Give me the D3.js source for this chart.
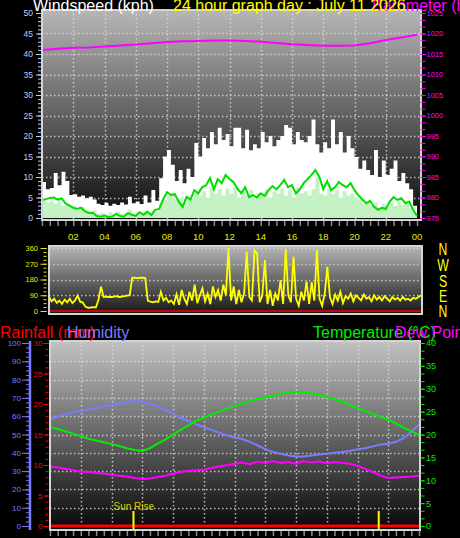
<!DOCTYPE html>
<html>
<head>
<meta charset="utf-8">
<script src="https://cdn.jsdelivr.net/npm/d3@7"></script>
<style>
  body { margin: 0; background: #000; }
  svg { display: block; }
  text { font-family: "Liberation Sans", Arial, sans-serif; }
</style>
</head>
<body>
<div id="chart"></div>
<script>
// ---- data ----
const hourLabels = ["02","04","06","08","10","12","14","16","18","20","22","00"];
const hourValues = [2,4,6,8,10,12,14,16,18,20,22,24];

// windspeed, every 15 minutes, kph
const gustKph = [8.8,7,7.3,11,8,11.3,9,5.6,5.8,5.2,5.5,4.8,5.2,4.5,3.5,3.2,3.7,3.0,3.5,3.2,
  3.8,3.3,5.2,3.6,4.0,3.4,5.5,3.8,6.8,4.2,9.7,15,16.6,13,9,11.7,8.5,12,10,18.3,
  15,19.5,17,21,18,22,19,20.5,17.5,22,22,17,21.5,16.5,18,17,21,18.5,20,17.5,
  19,20,22.7,22,18,21,19,18.5,20,24,18,16,18.5,17,24,18,21,16,20,17,
  14.9,12,14,11.7,10.5,16.6,10,14,10.5,12,14,9,11,8.5,7,3,2];
const windKph = [4.5,3.8,4.2,3.5,4.8,3.0,3.5,2.5,2.8,1.8,2.6,2.0,1.5,1.8,1.0,1.2,0.8,1.4,0.9,1.6,
  1.0,1.3,2.0,1.0,1.5,0.8,1.8,1.2,2.0,1.5,3.5,4.4,5.5,6.0,4.5,5.0,3.5,5.5,4.8,6.0,
  5.5,6.5,5.0,7.5,6.0,7.0,5.5,7.2,6.0,7.5,5.0,6.5,5.5,6.8,4.8,6.0,5.5,7.0,5.0,6.5,
  6.0,7.2,5.5,6.8,5.0,7.5,6.0,6.5,5.5,7.0,10,6.0,5.5,7.0,6.0,6.8,5.0,6.5,5.5,6.0,
  5.0,4.5,3.5,4.0,3.0,3.8,2.5,3.5,2.8,4.0,3.0,3.8,3.2,3.5,2.5,1.5,1.0];
const avgKph = [4.4,4.6,4.9,5.0,4.5,4.8,3.6,3.0,2.5,2.2,2.5,1.6,1.2,1.3,0.5,0.3,0.6,0.2,0.4,1.0,
  0.5,0.3,1.2,0.8,0.5,1.4,0.8,1.5,0.7,2.0,2.2,4.5,6.3,5.6,5.8,4.0,2.7,5.1,4.5,6.8,
  6.0,7.5,8.0,9.7,7.0,9.5,8.5,10.5,9.5,8.8,7.2,6.0,7.5,5.1,5.6,5.0,6.0,5.4,6.8,7.8,
  7.0,8.0,9.3,7.5,8.0,6.0,7.0,8.5,9.5,10.5,11.7,10.0,7.0,9.0,6.8,7.5,8.8,8.0,7.5,8.5,
  6.8,5.5,4.5,3.6,4.2,2.7,2.0,2.5,2.2,4.0,5.1,4.4,4.8,3.6,4.0,2.0,0.5];
// barometer, hourly, hPa
const baroHpa = [1016.0,1016.3,1016.5,1016.6,1016.8,1017.1,1017.3,1017.6,1017.9,1018.1,1018.2,1018.3,
  1018.3,1018.2,1018.0,1017.7,1017.4,1017.2,1017.0,1017.0,1017.1,1017.6,1018.4,1019.0,1019.7];

// wind direction, every 10 minutes, degrees
const dirDeg = [82,55,70,46,60,40,65,50,70,45,60,88,53,48,25,18,20,22,20,63,
  139,80,82,80,80,82,85,80,82,85,88,90,190,190,188,190,190,188,58,53,
  50,55,52,110,60,75,50,60,40,95,35,120,70,40,110,60,150,45,90,130,
  55,100,40,140,80,120,60,150,90,360,60,140,40,120,50,100,339,80,60,345,
  330,50,90,291,40,120,30,100,60,177,40,353,90,50,310,70,30,110,60,170,
  40,165,60,350,70,30,100,253,80,40,95,60,110,45,85,70,100,55,90,75,
  60,95,70,80,55,90,65,80,60,85,70,55,80,65,75,60,80,65,70,60,
  75,70,80,90];
const compass = ["N","W","S","E","N"];
const compassDeg = [360,270,180,90,0];

// humidity / temperature / dew point, every 30 minutes
const humidityPct = [58,60,61,62,63,63.5,64.5,65.5,66,67,67.5,68.5,68,66.5,65.5,63.5,61.5,59,57.5,55.5,
  54,52.5,51,49.5,48.5,47.5,46,44,42,40.5,39.5,38.5,38,38,38.5,39,39.5,40,40.5,41,
  42,42.5,43.5,44.5,45,46,48,51.5,55.5];
const tempC = [21.6,21.2,20.7,20.2,19.6,19.1,18.7,18.3,17.9,17.5,17.0,16.6,16.4,17.0,18.0,18.9,20.0,21.0,22.0,23.0,
  23.7,24.4,25.0,25.7,26.2,26.8,27.3,27.8,28.1,28.5,28.9,29.1,29.3,29.3,29.0,28.7,28.2,27.7,27.2,26.4,
  25.8,25.1,24.5,23.8,23.3,22.4,21.5,20.7,19.9];
const dewC = [13.0,12.8,12.5,12.2,11.9,11.8,11.6,11.5,11.2,11.0,10.8,10.5,10.3,10.4,10.7,11.0,11.4,11.8,12.0,12.2,
  12.3,12.7,13.0,13.3,13.6,13.9,13.5,14.1,13.7,14.2,13.8,14.0,13.6,14.2,13.9,14.1,13.7,14.0,13.8,13.6,
  13.1,12.5,11.8,11.0,10.5,10.6,10.7,10.8,11.0];
// rainfall, hourly, mm
const rainMm = [0,0,0,0,0,0,0,0,0,0,0,0,0,0,0,0,0,0,0,0,0,0,0,0,0];
const sunTimes = [5.43, 21.38];
const sunLabels = ["Sun Rise", ""];

// ---- chart ----
const W = 460, H = 538;
const svg = d3.select("#chart").append("svg")
  .attr("width", W).attr("height", H)
  .style("background", "#000");
const defs = svg.append("defs");

function gradient(id, top, bottom) {
  const g = defs.append("linearGradient").attr("id", id)
    .attr("x1", 0).attr("y1", 0).attr("x2", 0).attr("y2", 1);
  g.append("stop").attr("offset", "0%").attr("stop-color", top);
  g.append("stop").attr("offset", "100%").attr("stop-color", bottom);
}
gradient("gTop", "#b6b6b6", "#0c0c0c");
gradient("gMid", "#b8b8b8", "#151515");
gradient("gBot", "#c2c2c2", "#070707");

function tIndex(arr) { return i => i * 24 / (arr.length - 1); }

function panel(f, gradId, clipId) {
  defs.append("clipPath").attr("id", clipId).append("rect")
    .attr("x", f.x0).attr("y", f.y0).attr("width", f.x1 - f.x0).attr("height", f.y1 - f.y0);
  svg.append("rect").attr("x", f.x0).attr("y", f.y0)
    .attr("width", f.x1 - f.x0).attr("height", f.y1 - f.y0)
    .attr("fill", "url(#" + gradId + ")");
  return svg.append("g").attr("clip-path", "url(#" + clipId + ")");
}
function frame(f) {
  svg.append("rect").attr("x", f.x0).attr("y", f.y0)
    .attr("width", f.x1 - f.x0).attr("height", f.y1 - f.y0)
    .attr("fill", "none").attr("stroke", "#d4d4d4").attr("stroke-width", 2);
}
function hGrid(g, f, y, values) {
  g.selectAll(null).data(values).enter().append("line")
    .attr("x1", f.x0).attr("x2", f.x1)
    .attr("y1", d => Math.round(y(d)) + 0.5).attr("y2", d => Math.round(y(d)) + 0.5)
    .attr("stroke", "#e0e0e0").attr("stroke-width", 1.5)
    .attr("stroke-dasharray", "1.5,2.5").attr("opacity", 0.8);
}
function vGrid(g, f, x, values) {
  g.selectAll(null).data(values).enter().append("line")
    .attr("y1", f.y0).attr("y2", f.y1)
    .attr("x1", d => Math.round(x(d)) + 0.5).attr("x2", d => Math.round(x(d)) + 0.5)
    .attr("stroke", "#e0e0e0").attr("stroke-width", 1.5)
    .attr("stroke-dasharray", "1.5,2.5").attr("opacity", 0.8);
}
function styleAxis(g, color, size) {
  g.select(".domain").remove();
  g.selectAll("line").attr("stroke", color);
  g.selectAll("text").attr("fill", color).style("font-size", size + "px")
    .style("font-family", '"Liberation Sans", Arial, sans-serif');
}
function sideAxis(axisFn, x, scale, major, minor, majLen, minLen, pad, color, size, fmt) {
  const gm = svg.append("g").attr("transform", `translate(${x},0)`)
    .call(axisFn(scale).tickValues(minor).tickSize(minLen).tickFormat(""));
  styleAxis(gm, color, size);
  const gM = svg.append("g").attr("transform", `translate(${x},0)`)
    .call(axisFn(scale).tickValues(major).tickSize(majLen).tickPadding(pad).tickFormat(fmt || d3.format("d")));
  styleAxis(gM, color, size);
  return gM;
}
function underTicks(x, y) {
  const g = svg.append("g").attr("transform", `translate(0,${y})`)
    .call(d3.axisBottom(x).tickValues(d3.range(0, 24.01, 0.5)).tickSize(5).tickFormat(""));
  g.select(".domain").remove();
  g.selectAll("line").attr("stroke", "#8a8a8a").attr("stroke-width", 1.5);
}

// ---- top panel: windspeed + barometer ----
const fTop = {x0: 42, x1: 421, y0: 10, y1: 220};
const xTop = d3.scaleLinear().domain([0, 24]).range([42, 417]);
const yWind = d3.scaleLinear().domain([0, 50]).range([218, 13]);
const yBaro = d3.scaleLinear().domain([975, 1025]).range([218, 13]);
const gTop = panel(fTop, "gTop", "cTop");
hGrid(gTop, fTop, yWind, d3.range(5, 50, 5));
vGrid(gTop, fTop, xTop, hourValues.slice(0, 11));

const tg = tIndex(gustKph);
gTop.append("path").datum(gustKph)
  .attr("fill", "#ffffff")
  .attr("d", d3.area().curve(d3.curveStepAfter)
    .x((d, i) => xTop(tg(i))).y0(yWind(0)).y1(d => yWind(d)));
const tw = tIndex(windKph);
gTop.append("path").datum(windKph)
  .attr("fill", "#c4f2c4")
  .attr("d", d3.area().curve(d3.curveStepAfter)
    .x((d, i) => xTop(tw(i))).y0(yWind(0)).y1(d => yWind(d)));
const ta = tIndex(avgKph);
gTop.append("path").datum(avgKph)
  .attr("fill", "none").attr("stroke", "#00dd00").attr("stroke-width", 2)
  .attr("d", d3.line().x((d, i) => xTop(ta(i))).y(d => yWind(d)));
const tb = tIndex(baroHpa);
gTop.append("path").datum(baroHpa)
  .attr("fill", "none").attr("stroke", "#ff00ff").attr("stroke-width", 2)
  .attr("d", d3.line().x((d, i) => xTop(tb(i))).y(d => yBaro(d)));
frame(fTop);
underTicks(xTop, 221);

sideAxis(d3.axisLeft, 41, yWind, d3.range(0, 51, 5), d3.range(0, 51, 1), 5, 3, 3, "#b8d0ff", 8.5);
sideAxis(d3.axisRight, 420.5, yBaro, d3.range(975, 1026, 5), d3.range(975, 1025.01, 50 / 30), 5, 5, 1, "#ff00ff", 7.5);

// hour labels
svg.append("g").selectAll("text").data(hourValues).enter().append("text")
  .attr("x", d => xTop(d)).attr("y", 239.5)
  .attr("text-anchor", "middle").attr("fill", "#e8e800")
  .style("font-size", "9.5px")
  .text((d, i) => hourLabels[i]);

// ---- middle panel: wind direction ----
const fMid = {x0: 49, x1: 422, y0: 246, y1: 314};
const xMid = d3.scaleLinear().domain([0, 24]).range([49, 421]);
const yDir = d3.scaleLinear().domain([0, 360]).range([311, 248]);
const gMid = panel(fMid, "gMid", "cMid");
hGrid(gMid, fMid, yDir, [90, 180, 270, 360]);
gMid.append("line").attr("x1", fMid.x0).attr("x2", fMid.x1)
  .attr("y1", yDir(0)).attr("y2", yDir(0))
  .attr("stroke", "#ff0000").attr("stroke-width", 1.5);
const td = tIndex(dirDeg);
gMid.append("path").datum(dirDeg)
  .attr("fill", "none").attr("stroke", "#ffff00").attr("stroke-width", 1.8)
  .attr("d", d3.line().x((d, i) => xMid(td(i))).y(d => yDir(d)));
frame(fMid);
sideAxis(d3.axisLeft, 46.5, yDir, [0, 90, 180, 270, 360], d3.range(0, 361, 22.5), 6, 3, 2.5, "#e8e800", 7.5);

svg.append("g").selectAll("text").data(compass).enter().append("text")
  .attr("transform", (d, i) => `translate(443,${yDir(compassDeg[i]) + 7 + (i === 4 ? -1 : 0)}) scale(0.72,1)`)
  .attr("text-anchor", "middle").attr("fill", "#ffff00")
  .style("font-size", "17px")
  .text(d => d);

// ---- bottom panel: rainfall, humidity, temperature, dew point ----
const fBot = {x0: 50, x1: 420, y0: 341, y1: 530};
const xBot = d3.scaleLinear().domain([0, 24]).range([50, 419]);
const yRain = d3.scaleLinear().domain([0, 30]).range([526, 343]);
const yHum = d3.scaleLinear().domain([0, 100]).range([526, 343]);
const yTemp = d3.scaleLinear().domain([0, 40]).range([526, 343]);
const gBot = panel(fBot, "gBot", "cBot");
hGrid(gBot, fBot, yHum, d3.range(10, 100, 10));
vGrid(gBot, fBot, xBot, hourValues.slice(0, 11));

const th = tIndex(humidityPct);
gBot.append("path").datum(humidityPct)
  .attr("fill", "none").attr("stroke", "#7b7bff").attr("stroke-width", 2)
  .attr("d", d3.line().x((d, i) => xBot(th(i))).y(d => yHum(d)));
const tt = tIndex(tempC);
gBot.append("path").datum(tempC)
  .attr("fill", "none").attr("stroke", "#00ee00").attr("stroke-width", 2)
  .attr("d", d3.line().x((d, i) => xBot(tt(i))).y(d => yTemp(d)));
const tdp = tIndex(dewC);
gBot.append("path").datum(dewC)
  .attr("fill", "none").attr("stroke", "#ff00ff").attr("stroke-width", 2)
  .attr("d", d3.line().x((d, i) => xBot(tdp(i))).y(d => yTemp(d)));
const tr = tIndex(rainMm);
gBot.append("path").datum(rainMm)
  .attr("fill", "none").attr("stroke", "#ff0000").attr("stroke-width", 3)
  .attr("d", d3.line().x((d, i) => xBot(tr(i))).y(d => yRain(d)));

gBot.selectAll(".sun").data(sunTimes).enter().append("line")
  .attr("x1", d => xBot(d)).attr("x2", d => xBot(d))
  .attr("y1", 511).attr("y2", 530)
  .attr("stroke", "#ffff00").attr("stroke-width", 2);
gBot.selectAll(".sunl").data(sunTimes).enter().append("text")
  .attr("x", d => xBot(d) - 20).attr("y", 510)
  .attr("fill", "#d4d400").style("font-size", "10px")
  .text((d, i) => sunLabels[i]);
frame(fBot);
underTicks(xBot, 531);

// humidity axis with a blue spine
svg.append("line").attr("x1", 30).attr("x2", 30).attr("y1", 341).attr("y2", 530)
  .attr("stroke", "#7b7bff").attr("stroke-width", 2.5);
sideAxis(d3.axisLeft, 30, yHum, d3.range(0, 101, 10), d3.range(0, 100.01, 2.5), 8, 4, 1, "#7b7bff", 8);
sideAxis(d3.axisLeft, 48.5, yRain, d3.range(0, 31, 5), d3.range(0, 31, 1), 5, 3, 1, "#ff0000", 8);
sideAxis(d3.axisRight, 420.5, yTemp, d3.range(0, 41, 5), d3.range(0, 40.01, 40 / 24), 4, 4, 1.5, "#00ee00", 9);

// ---- titles ----
const titles = [
  {t: "Windspeed (kph)", x: 33, y: 11, c: "#ffffff"},
  {t: "Barometer (hPa)", x: 372, y: 11, c: "#ff00ff"},
  {t: "24 hour graph day : July 11 2026", x: 173, y: 11, c: "#ffff00"},
  {t: "Rainfall (mm)", x: 0, y: 338, c: "#ff0000"},
  {t: "Humidity", x: 67, y: 338, c: "#7b7bff"},
  {t: "Temperature (\u00b0C)", x: 313, y: 338, c: "#00ee00"},
  {t: "Dew Point", x: 395, y: 338, c: "#ff00ff"}
];
svg.append("g").selectAll("text").data(titles).enter().append("text")
  .attr("x", d => d.x).attr("y", d => d.y).attr("fill", d => d.c)
  .style("font-size", "16px")
  .text(d => d.t);
</script>
</body>
</html>
